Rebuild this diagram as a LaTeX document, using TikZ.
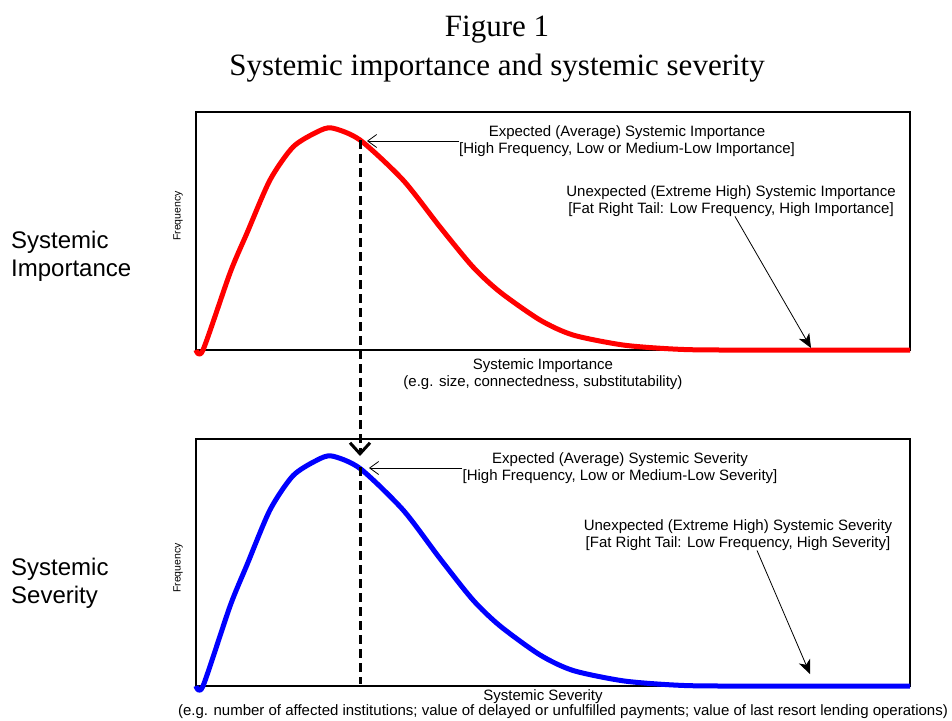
\documentclass[tikz,border=0pt]{standalone}
\usepackage{fontspec}
\setmainfont{Liberation Serif}
\setsansfont{Liberation Sans}
\usetikzlibrary{arrows.meta}
\tikzset{
	panel/.style={line width=1.5pt},
	note/.style={font=\sffamily\fontsize{15}{16.5}\selectfont, align=center, inner sep=0pt},
	sidelabel/.style={font=\sffamily\fontsize{24}{28}\selectfont, align=left, anchor=west, inner sep=0pt},
	freqlabel/.style={font=\sffamily\fontsize{10.5}{12}\selectfont, rotate=90, inner sep=0pt},
	pointer/.style={line width=0.8pt, -{Straight Barb[length=9pt, width=13pt]}},
	tailpointer/.style={line width=0.8pt, -{Stealth[length=14pt, width=12pt, inset=4pt]}},
	meanline/.style={line width=3pt, dash pattern=on 9pt off 5pt},
}
\def\densitycurve{plot[smooth, tension=0.45] coordinates {(196,0) (203,0) (230,-77) (247,-117) (270,-170) (293,-203) (317,-218) (332,-222) (360,-210) (403,-170) (440,-123) (473,-83) (500,-58) (540,-30) (573,-15) (623,-5) (673,-1) (720,0) (910,0)}}

\begin{document}
\begin{tikzpicture}[x=1pt, y=-1pt]
			%%%%% START %%%%%
			\useasboundingbox (0,0) rectangle (952,720);
			
			\node (title) at (497,30) {\fontsize{31}{33}\selectfont Figure 1};
			\node (subtitle) at (497,68) {\fontsize{31}{33}\selectfont Systemic importance and systemic severity};
			
			% top panel: importance
			\draw[panel] (196,112) rectangle (910,350);
			\begin{scope}[shift={(0,350)}]
				\draw[red, line width=5pt, line join=round] \densitycurve;
			\end{scope}
			\node[sidelabel] (impLabel) at (11,256) {Systemic\\Importance};
			\node[freqlabel] (impFreq) at (178,216) {Frequency};
			\node[note] (impAxis) at (543,374) {Systemic Importance\\(e.g. size, connectedness, substitutability)};
			\node[note] (impExp) at (627,141) {Expected (Average) Systemic Importance\\{}[High Frequency, Low or Medium-Low Importance]};
			\node[note] (impUnexp) at (731,201) {Unexpected (Extreme High) Systemic Importance\\{}[Fat Right Tail: Low Frequency, High Importance]};
			
			% bottom panel: severity
			\draw[panel] (196,439) rectangle (910,686);
			\begin{scope}[shift={(0,686)}, yscale=1.036]
				\draw[blue, line width=5pt, line join=round] \densitycurve;
			\end{scope}
			\node[sidelabel] (sevLabel) at (11,583) {Systemic\\Severity};
			\node[freqlabel] (sevFreq) at (178,568) {Frequency};
			\node[note] (sevAxis) at (543,697) {Systemic Severity};
			\node[note] (sevAxisEg) at (563,712) {(e.g. number of affected institutions; value of delayed or unfulfilled payments; value of last resort lending operations)};
			\node[note] (sevExp) at (620,468) {Expected (Average) Systemic Severity\\{}[High Frequency, Low or Medium-Low Severity]};
			\node[note] (sevUnexp) at (738,535) {Unexpected (Extreme High) Systemic Severity\\{}[Fat Right Tail: Low Frequency, High Severity]};
			
			% mean markers and pointers
			\coordinate (impMean) at (360,140);
			\coordinate (sevTop) at (360,456);
			\coordinate (sevMean) at (360,467);
			\coordinate (sevFoot) at (360,684);
			\coordinate (impTail) at (811,348);
			\coordinate (sevTail) at (810,674);
			\coordinate (impExpTip) at (367,141);
			\coordinate (sevExpTip) at (369,468);
			
			\draw[meanline, -{Straight Barb[length=11pt, width=20pt, line width=3pt]}] (impMean) -- (sevTop);
			\draw[meanline] (sevMean) -- (sevFoot);
			\draw[pointer] (impExp.west) -- (impExpTip);
			\draw[pointer] (sevExp.west) -- (sevExpTip);
			\draw[tailpointer] ([xshift=4pt]impUnexp.south) -- (impTail);
			\draw[tailpointer] ([xshift=19pt]sevUnexp.south) -- (sevTail);
			
			%%%%% END %%%%%
\end{tikzpicture}
\end{document}
